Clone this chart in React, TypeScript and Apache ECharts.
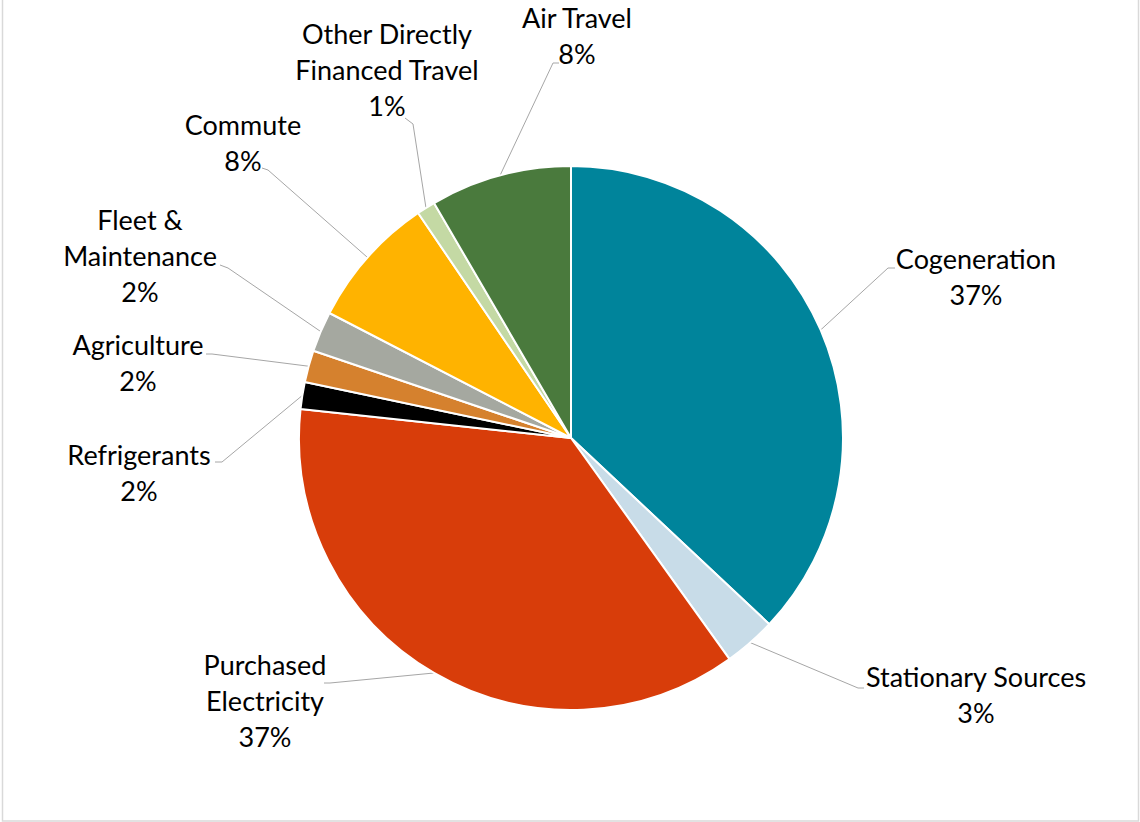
import React, { useEffect, useRef } from "react";
import * as echarts from "echarts";

const categories = [
  "Cogeneration",
  "Stationary Sources",
  "Purchased Electricity",
  "Refrigerants",
  "Agriculture",
  "Fleet & Maintenance",
  "Commute",
  "Other Directly Financed Travel",
  "Air Travel",
];
const labelNames = [
  "Cogeneration",
  "Stationary Sources",
  "Purchased\nElectricity",
  "Refrigerants",
  "Agriculture",
  "Fleet &\nMaintenance",
  "Commute",
  "Other Directly\nFinanced Travel",
  "Air Travel",
];
const values = [37.0, 3.1, 36.6, 1.6, 1.9, 2.4, 7.9, 1.1, 8.4];
const colors = [
  "#00849B",
  "#C8DCE8",
  "#D83D0A",
  "#000000",
  "#D5812E",
  "#A5A8A0",
  "#FFB300",
  "#C4D9A4",
  "#4A7A3D",
];

// label layout: [centerX, topY, elbowX, elbowY, endX, endY]
const labelPos: number[][] = [
  [976, 240, 888, 268, 895, 268],
  [976, 658, 858, 688, 864, 688],
  [265, 646, 330, 683, 324, 683],
  [139, 436, 222, 462, 215, 462],
  [138, 326, 212, 354, 206, 354],
  [140, 201, 228, 268, 220, 265],
  [243, 106, 268, 170, 262, 168],
  [387, 15, 413, 124, 405, 118],
  [577, -1, 553, 63, 559, 63],
];

export default function App() {
  const ref = useRef<HTMLDivElement>(null);
  useEffect(() => {
    if (!ref.current) return;
    const chart = echarts.init(ref.current, undefined, { renderer: "svg" });
    const total = values.reduce((a, b) => a + b, 0);
    chart.setOption({
      animation: false,
      backgroundColor: "#ffffff",
      graphic: [
        {
          type: "rect",
          shape: { x: 2.5, y: -1, width: 1136, height: 822 },
          style: { fill: "none", stroke: "#D9D9D9", lineWidth: 1.5 },
          z: 10,
        },
      ],
      series: [
        {
          type: "pie",
          center: [571, 438],
          radius: 272,
          startAngle: 90,
          clockwise: true,
          avoidLabelOverlap: false,
          data: categories.map((c, i) => ({
            name: c,
            value: values[i],
            itemStyle: { color: colors[i] },
          })),
          itemStyle: { borderColor: "#ffffff", borderWidth: 2 },
          label: {
            show: true,
            position: "outside",
            formatter: (p: any) =>
              labelNames[p.dataIndex] +
              "\n" +
              Math.round((values[p.dataIndex] / total) * 100) +
              "%",
            fontFamily: "Lato, 'Open Sans', sans-serif",
            fontSize: 27,
            lineHeight: 36,
            color: "#000000",
            align: "center",
          },
          labelLine: {
            show: true,
            length: 20,
            length2: 20,
            lineStyle: { color: "#A6A6A6", width: 1 },
          },
          labelLayout: (params: any) => {
            const lp = labelPos[params.dataIndex];
            const start = params.labelLinePoints
              ? params.labelLinePoints[0]
              : [lp[2], lp[3]];
            return {
              x: lp[0],
              y: lp[1],
              align: "center",
              verticalAlign: "top",
              labelLinePoints: [start, [lp[2], lp[3]], [lp[4], lp[5]]],
            };
          },
        },
      ],
    });
    return () => chart.dispose();
  }, []);
  return (
    <div
      ref={ref}
      style={{ position: "fixed", left: 0, top: 0, width: 1140, height: 822 }}
    />
  );
}
